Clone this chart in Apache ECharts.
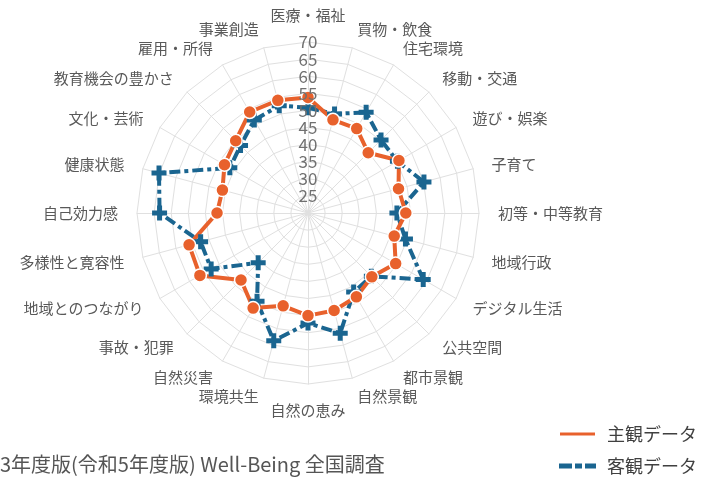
<!DOCTYPE html>
<html>
<head>
<meta charset="utf-8">
<script src="https://cdn.jsdelivr.net/npm/echarts@6/dist/echarts.min.js"></script>
<style>
html,body{margin:0;padding:0;background:#fff;}
#chart{width:715px;height:481px;}
</style>
</head>
<body>
<div id="chart"></div>
<script>
// Categories listed clockwise starting from the top
const categories = ['医療・福祉','買物・飲食','住宅環境','移動・交通','遊び・娯楽','子育て','初等・中等教育','地域行政','デジタル生活','公共空間','都市景観','自然景観','自然の恵み','環境共生','自然災害','事故・犯罪','地域とのつながり','多様性と寛容性','自己効力感','健康状態','文化・芸術','教育機会の豊かさ','雇用・所得','事業創造'];
const subjective = [53.8,48.2,48.5,44.9,50.7,47.4,48.6,46.1,49.6,46.4,48.3,49.5,50.0,48.1,52.1,47.7,56.5,56.0,46.6,45.9,48.2,49.9,54.1,54.1];
const objective = [50.8,50.0,54.0,50.2,50.2,55.1,46.0,49.5,58.9,46.2,46.7,56.4,52.2,58.7,49.8,40.6,52.7,52.5,63.4,65.1,46.4,47.9,51.4,52.5];
const seriesNames = ['主観データ','客観データ'];
const axisMin = 20, axisMax = 70, axisStep = 5;
const footnote = '3年度版(令和5年度版) Well-Being 全国調査';

// ECharts radar lays indicators counter-clockwise; reorder to draw clockwise
function cw(arr){ return [arr[0]].concat(arr.slice(1).reverse()); }

const ORANGE = '#E8612C';
const BLUE = '#1A6590';
const FONT = '"Noto Sans CJK JP", "Noto Sans", sans-serif';
const plusPath = 'path://M4,0h4v4h4v4h-4v4h-4v-4h-4v-4h4z';

const chart = echarts.init(document.getElementById('chart'));
chart.setOption({
  backgroundColor: '#ffffff',
  animation: false,
  textStyle: { fontFamily: FONT },
  graphic: [{
    type: 'text', left: 0, top: 454,
    style: { text: footnote, fontSize: 20, fill: '#555555', fontFamily: FONT }
  }],
  legend: {
    orient: 'vertical', left: 558, bottom: 6, itemGap: 14, padding: 0,
    itemWidth: 37, itemHeight: 5,
    textStyle: { fontSize: 18, color: '#404040', fontFamily: FONT, padding: [0,0,0,6] },
    data: [
      { name: seriesNames[0], icon: 'rect', itemStyle: { color: ORANGE } },
      { name: seriesNames[1], icon: 'path://M0,0h13v5h-13z M16,0h7v5h-7z M26,0h11v5h-11z', itemStyle: { color: BLUE } }
    ]
  },
  radar: {
    center: [308, 213],
    radius: 171,
    startAngle: 90,
    shape: 'polygon',
    splitNumber: (axisMax - axisMin) / axisStep,
    nameGap: 19,
    axisName: { color: '#595959', fontSize: 15, fontFamily: FONT },
    axisLine: { lineStyle: { color: '#e0e0e0', width: 1 } },
    splitLine: { lineStyle: { color: '#e0e0e0', width: 1 } },
    splitArea: { show: false },
    indicator: cw(categories).map(n => ({ name: n, min: axisMin, max: axisMax }))
  },
  polar: { center: [308, 213], radius: 171 },
  angleAxis: { show: false, startAngle: 90, type: 'value', min: 0, max: 360 },
  radiusAxis: {
    type: 'value', min: axisMin, max: axisMax, interval: axisStep,
    axisLine: { show: false }, axisTick: { show: false }, splitLine: { show: false },
    axisLabel: { showMinLabel: false, color: '#707070', fontSize: 17, fontFamily: FONT, margin: 0, align: 'center', verticalAlign: 'middle' },
    z: 10
  },
  series: [{
    type: 'radar',
    z: 3,
    data: [
      {
        name: seriesNames[1],
        value: cw(objective),
        symbol: plusPath, symbolSize: 15,
        itemStyle: { color: BLUE },
        lineStyle: { color: BLUE, width: 4, type: [11, 4, 4, 4] }
      },
      {
        name: seriesNames[0],
        value: cw(subjective),
        symbol: 'circle', symbolSize: 13,
        itemStyle: { color: ORANGE, borderColor: '#ffffff', borderWidth: 1.5 },
        lineStyle: { color: ORANGE, width: 4 }
      }
    ]
  }]
});
</script>
</body>
</html>
